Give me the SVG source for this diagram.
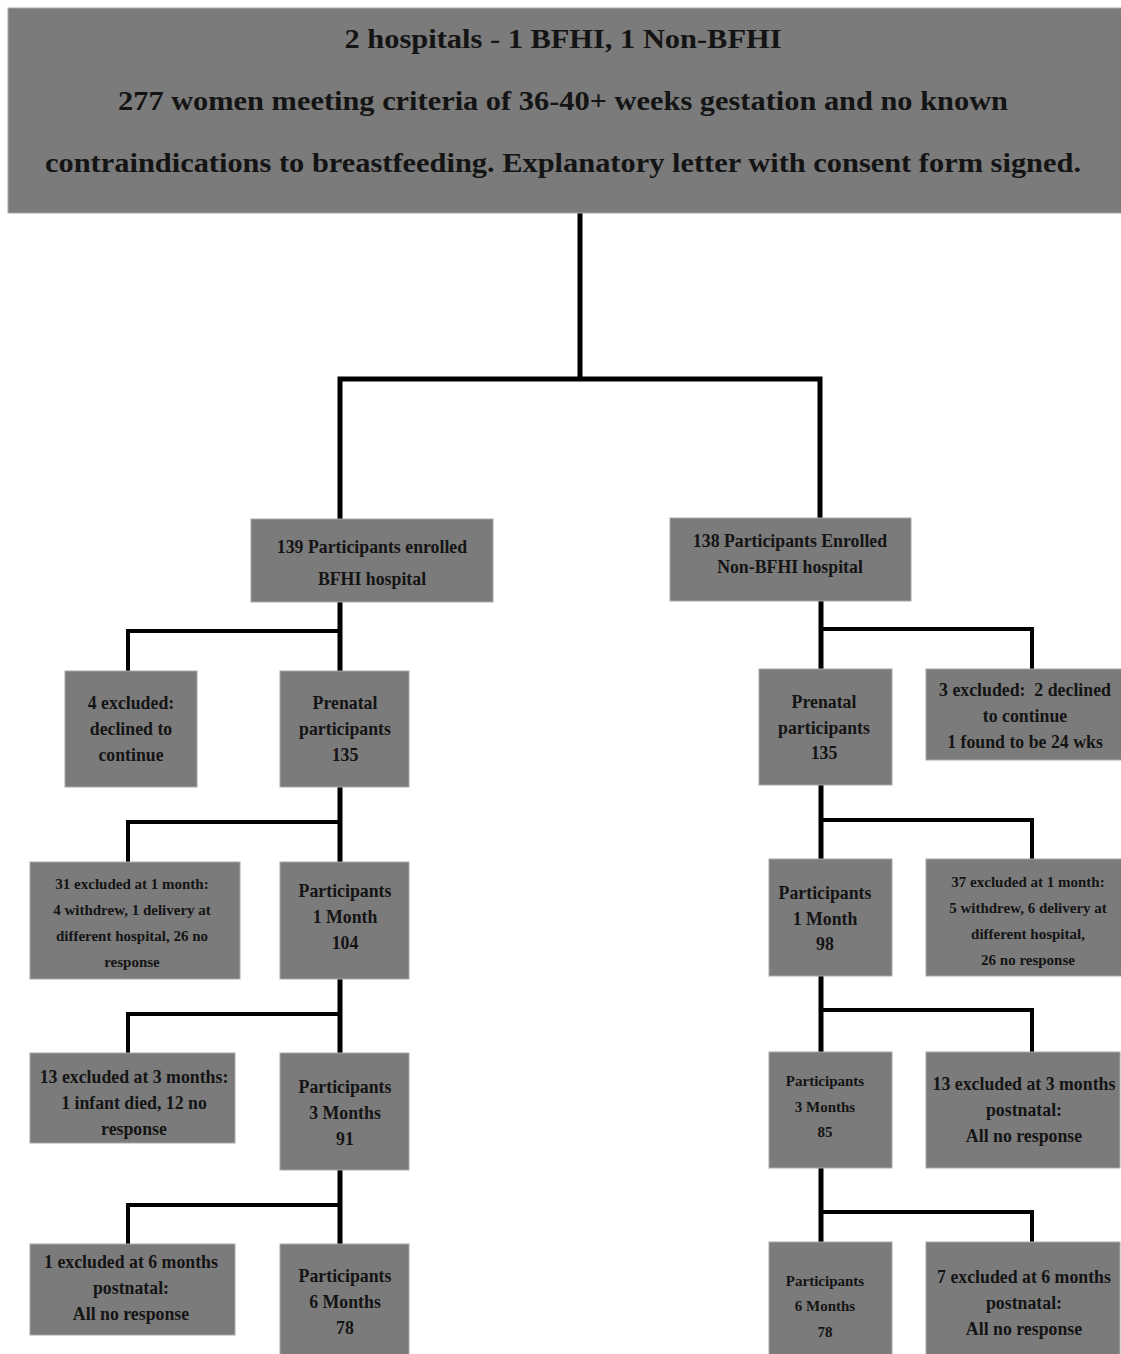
<svg xmlns="http://www.w3.org/2000/svg" width="1121" height="1354" viewBox="0 0 1121 1354">
<style>
.box{fill:#7b7b7b;stroke:#a8a8a8;stroke-width:1}
.t{font-family:"Liberation Serif","Times New Roman",serif;font-weight:bold;fill:#141414;text-anchor:middle}
.big{font-size:27px}
.m{font-size:17.8px}
.s{font-size:15px}
.xs{font-size:15px}
.main{fill:none;stroke:#000;stroke-width:5;stroke-linejoin:miter}
.br{fill:none;stroke:#000;stroke-width:4;stroke-linejoin:miter}
</style>
<rect width="1121" height="1354" fill="#fff"/>
<g id="connectors">
<path class="main" d="M580,213 V379 M340,519 V379 H820 V518"/>
<path class="main" d="M340,602 V1354 M821,601 V1354"/>
<path class="br" d="M340,631 H128 V671 M340,822 H128 V862 M340,1014 H128 V1053 M340,1205 H128 V1244"/>
<path class="br" d="M821,629 H1032 V669 M821,820 H1032 V859 M821,1010 H1032 V1052 M821,1212 H1032 V1242"/>
</g>
<g id="top">
<rect class="box" x="8" y="8" width="1114" height="205"/>
<text class="t big" x="563" y="48" textLength="437" lengthAdjust="spacingAndGlyphs">2 hospitals - 1 BFHI, 1 Non-BFHI</text>
<text class="t big" x="563" y="110" textLength="890" lengthAdjust="spacingAndGlyphs">277 women meeting criteria of 36-40+ weeks gestation and no known</text>
<text class="t big" x="563" y="172" textLength="1036" lengthAdjust="spacingAndGlyphs">contraindications to breastfeeding. Explanatory letter with consent form signed.</text>
</g>
<g id="bfhi">
<rect class="box" x="251" y="519" width="242" height="83"/>
<text class="t m" x="372" y="552.5">139 Participants enrolled</text>
<text class="t m" x="372" y="584.5">BFHI hospital</text>
</g>
<g id="nonbfhi">
<rect class="box" x="670" y="518" width="241" height="83"/>
<text class="t m" x="790" y="546.5">138 Participants Enrolled</text>
<text class="t m" x="790" y="572.5">Non-BFHI hospital</text>
</g>
<g id="l-excl0">
<rect class="box" x="65" y="671" width="132" height="116"/>
<text class="t m" x="131" y="709">4 excluded:</text>
<text class="t m" x="131" y="734.5">declined to</text>
<text class="t m" x="131" y="760.5">continue</text>
</g>
<g id="l-prenatal">
<rect class="box" x="280" y="671" width="129" height="116"/>
<text class="t m" x="345" y="709">Prenatal</text>
<text class="t m" x="345" y="734.5">participants</text>
<text class="t m" x="345" y="760.5">135</text>
</g>
<g id="r-prenatal">
<rect class="box" x="759" y="669" width="133" height="116"/>
<text class="t m" x="824" y="707.5">Prenatal</text>
<text class="t m" x="824" y="733.5">participants</text>
<text class="t m" x="824" y="758.5">135</text>
</g>
<g id="r-excl0">
<rect class="box" x="926" y="669" width="196" height="91"/>
<text class="t m" x="1025" y="695.5" xml:space="preserve">3 excluded:  2 declined</text>
<text class="t m" x="1025" y="721.5">to continue</text>
<text class="t m" x="1025" y="747.5">1 found to be 24 wks</text>
</g>
<g id="l-excl1">
<rect class="box" x="30" y="862" width="210" height="117"/>
<text class="t s" x="132" y="888.5">31 excluded at 1 month:</text>
<text class="t s" x="132" y="914.5">4 withdrew, 1 delivery at</text>
<text class="t s" x="132" y="940.5">different hospital, 26 no</text>
<text class="t s" x="132" y="966.5">response</text>
</g>
<g id="l-1m">
<rect class="box" x="280" y="862" width="129" height="117"/>
<text class="t m" x="345" y="897">Participants</text>
<text class="t m" x="345" y="922.5">1 Month</text>
<text class="t m" x="345" y="948.5">104</text>
</g>
<g id="r-1m">
<rect class="box" x="769" y="859" width="123" height="117"/>
<text class="t m" x="825" y="898.5">Participants</text>
<text class="t m" x="825" y="924.5">1 Month</text>
<text class="t m" x="825" y="949.5">98</text>
</g>
<g id="r-excl1">
<rect class="box" x="926" y="859" width="196" height="117"/>
<text class="t s" x="1028" y="886.5">37 excluded at 1 month:</text>
<text class="t s" x="1028" y="912.5">5 withdrew, 6 delivery at</text>
<text class="t s" x="1028" y="938.5">different hospital,</text>
<text class="t s" x="1028" y="964.5">26 no response</text>
</g>
<g id="l-excl3">
<rect class="box" x="30" y="1053" width="205" height="90"/>
<text class="t m" x="134" y="1083">13 excluded at 3 months:</text>
<text class="t m" x="134" y="1109">1 infant died, 12 no</text>
<text class="t m" x="134" y="1135">response</text>
</g>
<g id="l-3m">
<rect class="box" x="280" y="1053" width="129" height="117"/>
<text class="t m" x="345" y="1093">Participants</text>
<text class="t m" x="345" y="1118.5">3 Months</text>
<text class="t m" x="345" y="1144.5">91</text>
</g>
<g id="r-3m">
<rect class="box" x="769" y="1052" width="123" height="116"/>
<text class="t xs" x="825" y="1085.5">Participants</text>
<text class="t xs" x="825" y="1111.5">3 Months</text>
<text class="t xs" x="825" y="1136.5">85</text>
</g>
<g id="r-excl3">
<rect class="box" x="926" y="1052" width="194" height="116"/>
<text class="t m" x="1024" y="1090">13 excluded at 3 months</text>
<text class="t m" x="1024" y="1116">postnatal:</text>
<text class="t m" x="1024" y="1142">All no response</text>
</g>
<g id="l-excl6">
<rect class="box" x="30" y="1244" width="205" height="91"/>
<text class="t m" x="131" y="1268">1 excluded at 6 months</text>
<text class="t m" x="131" y="1294">postnatal:</text>
<text class="t m" x="131" y="1320">All no response</text>
</g>
<g id="l-6m">
<rect class="box" x="280" y="1244" width="129" height="120"/>
<text class="t m" x="345" y="1282">Participants</text>
<text class="t m" x="345" y="1307.5">6 Months</text>
<text class="t m" x="345" y="1333.5">78</text>
</g>
<g id="r-6m">
<rect class="box" x="769" y="1242" width="123" height="122"/>
<text class="t xs" x="825" y="1285.5">Participants</text>
<text class="t xs" x="825" y="1310.5">6 Months</text>
<text class="t xs" x="825" y="1336.5">78</text>
</g>
<g id="r-excl6">
<rect class="box" x="926" y="1242" width="194" height="122"/>
<text class="t m" x="1024" y="1283">7 excluded at 6 months</text>
<text class="t m" x="1024" y="1309">postnatal:</text>
<text class="t m" x="1024" y="1335">All no response</text>
</g>
</svg>
